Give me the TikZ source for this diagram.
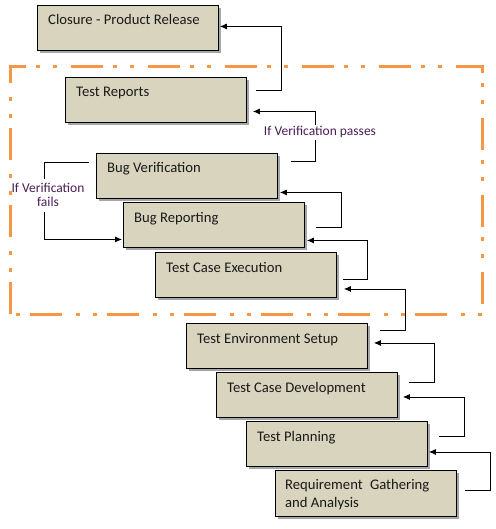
\documentclass[tikz,border=0pt]{standalone}
\usepackage{fontspec}
\setmainfont{Carlito}
\usetikzlibrary{calc,shadows,arrows.meta}
\definecolor{boxfill}{RGB}{216,212,190}
\definecolor{frameorange}{RGB}{247,150,70}
\definecolor{labelpurple}{RGB}{75,30,85}
\tikzset{
  phase/.style={draw=black, line width=0.9bp, fill=boxfill, anchor=north west,
    minimum width=181bp, minimum height=45bp, inner sep=0pt,
    drop shadow={shadow xshift=3bp, shadow yshift=-3bp, fill=black, opacity=0.35}},
  phasetext/.style={anchor=base west, inner sep=0pt, text=black!90,
    font=\fontsize{14.67bp}{18bp}\selectfont, align=left},
  conn/.style={draw=black, line width=0.8bp, -{Latex[length=7bp,width=6bp]}},
  note/.style={fill=white, text=labelpurple, inner xsep=1bp, inner ysep=2bp,
    font=\fontsize{13.5bp}{14bp}\selectfont, align=center},
  frame/.style={draw=frameorange, line width=3bp,
    dash pattern=on 32bp off 10bp on 4bp off 13bp on 4bp off 14bp}
}
\begin{document}
\begin{tikzpicture}[x=1bp,y=-1bp]
\useasboundingbox (0,0) rectangle (496,529);
% boxes
\node[phase] (cl) at (37,5) {};
\node[phase] (tr) at (65,77) {};
\node[phase] (bv) at (96,153) {};
\node[phase] (br) at (123,202) {};
\node[phase] (tce) at (155,252) {};
\node[phase] (tes) at (186,323) {};
\node[phase] (tcd) at (216,372) {};
\node[phase] (tp) at (246,421) {};
\node[phase, minimum height=46bp] (rg) at (275,470) {};
% box texts
\node[phasetext] (tcl) at ($(cl.north west)+(11,20)$) {Closure - Product Release};
\node[phasetext] (ttr) at ($(tr.north west)+(11,20)$) {Test Reports};
\node[phasetext] (tbv) at ($(bv.north west)+(11,20)$) {Bug Verification};
\node[phasetext] (tbr) at ($(br.north west)+(11,20)$) {Bug Reporting};
\node[phasetext] (ttce) at ($(tce.north west)+(11,20)$) {Test Case Execution};
\node[phasetext] (ttes) at ($(tes.north west)+(11,20)$) {Test Environment Setup};
\node[phasetext] (ttcd) at ($(tcd.north west)+(11,20)$) {Test Case Development};
\node[phasetext] (ttp) at ($(tp.north west)+(11,20)$) {Test Planning};
\node[phasetext] (trg) at ($(rg.north west)+(10,37)$) {Requirement\hspace{0.5em}Gathering\\and Analysis};
% connectors
\draw[conn] ($(tr.east)+(9,-9.5)$) -- ++(25,0) |- ($(cl.east)+(1,-1.5)$);
\draw[conn] ($(bv.east)+(13,-14.5)$) -- ++(24,0) |- ($(tr.east)+(6,11.5)$);
\draw[conn] ($(br.east)+(11,2.5)$) -- ++(25,0) |- ($(bv.east)+(2,16.5)$);
\draw[conn] ($(tce.east)+(6,4)$) -- ++(24,0) |- ($(br.east)+(2,15.5)$);
\draw[conn] ($(tes.east)+(12,-16)$) -- ++(25,0) |- ($(tce.east)+(7,14)$);
\draw[conn] ($(tcd.east)+(11,-13)$) -- ++(25,0) |- ($(tes.east)+(6,-3)$);
\draw[conn] ($(tp.east)+(11,-8)$) -- ++(25,0) |- ($(tcd.east)+(5,2)$);
\draw[conn] ($(rg.east)+(8,-3)$) -- ++(25,0) |- ($(tp.east)+(1,8)$);
\draw[conn] ($(bv.west)+(-7,-13.5)$) -- ++(-45,0) |- ($(br.west)+(-1,14.5)$);
% labels
\node[note, anchor=base] (pass) at (320,136) {If Verification passes};
\node[note, anchor=base, inner ysep=5bp] (fail) at (48,207) {If Verification\\fails};
% dash-dot-dot frame
\draw[frame] (10,314) -- (10,67) -- (482,67) -- (482,314) -- cycle;
\end{tikzpicture}
\end{document}
